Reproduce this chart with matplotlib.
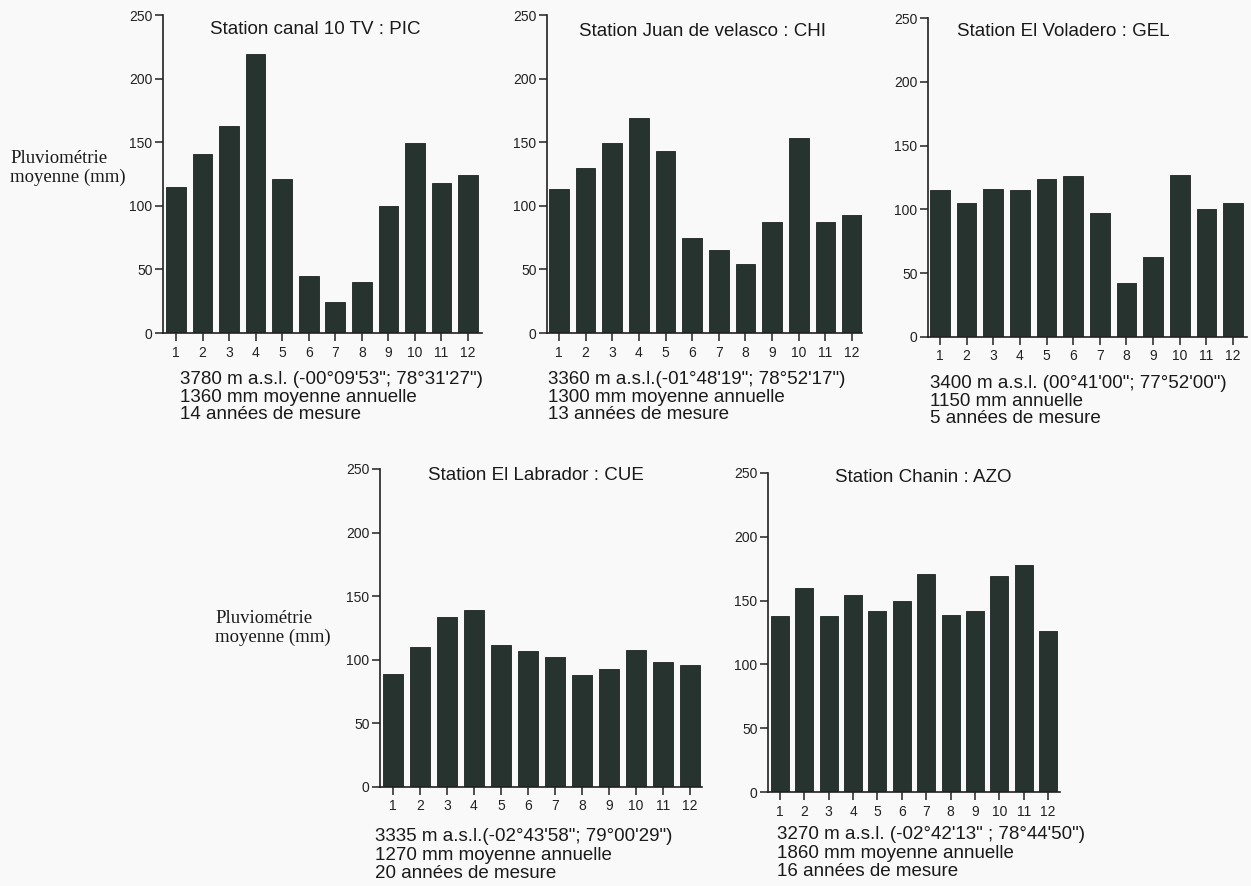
import numpy as np
import matplotlib
matplotlib.use("Agg")
import matplotlib.pyplot as plt

# Pluviométrie moyenne mensuelle (mm) par station
mois = np.arange(1, 13)
pic = [115, 141, 163, 219, 121, 45, 24, 40, 100, 149, 118, 124]
chi = [113, 130, 149, 169, 143, 75, 65, 54, 87, 153, 87, 93]
gel = [115, 105, 116, 115, 124, 126, 97, 42, 63, 127, 100, 105]
cue = [89, 110, 134, 139, 112, 107, 102, 88, 93, 108, 98, 96]
azo = [138, 160, 138, 154, 142, 150, 171, 139, 142, 169, 178, 126]

titres = ["Station canal 10 TV : PIC", "Station Juan de velasco : CHI",
          "Station El Voladero : GEL", "Station El Labrador : CUE",
          "Station Chanin : AZO"]
legendes = [
    "3780 m a.s.l. (-00°09'53\"; 78°31'27\")\n1360 mm moyenne annuelle\n14 années de mesure",
    "3360 m a.s.l.(-01°48'19\"; 78°52'17\")\n1300 mm moyenne annuelle\n13 années de mesure",
    "3400 m a.s.l. (00°41'00\"; 77°52'00\")\n1150 mm annuelle\n5 années de mesure",
    "3335 m a.s.l.(-02°43'58\"; 79°00'29\")\n1270 mm moyenne annuelle\n20 années de mesure",
    "3270 m a.s.l. (-02°42'13\" ; 78°44'50\")\n1860 mm moyenne annuelle\n16 années de mesure",
]
series = [pic, chi, gel, cue, azo]

W, H = 1251, 886
# position des panneaux en pixels: axe gauche, droite, haut(250), bas(0), centre mois 1, centre mois 12
panneaux = [
    (163, 482, 15, 333, 176, 468),
    (547, 862, 15, 333, 559, 852),
    (928, 1247, 18, 337, 940, 1233),
    (380, 702, 469, 787, 393, 690),
    (768, 1060, 473, 792, 780, 1048),
]
pos_titre = [(210, 30), (579, 31), (957, 31), (428, 476), (835, 478)]
pos_leg = [(180, 371), (548, 371), (930, 375), (375, 828), (777, 826)]

couleur = "#27332f"
plt.rcParams['font.family'] = ['Liberation Sans', 'DejaVu Sans']

fig = plt.figure(figsize=(W / 100, H / 100), dpi=100)
fig.patch.set_facecolor("#f9f9f9")

for i, (g, d, h, b, m1, m12) in enumerate(panneaux):
    ax = fig.add_axes([g / W, 1 - b / H, (d - g) / W, (b - h) / H])
    ax.set_facecolor("none")
    unite = (m12 - m1) / 11
    ax.bar(mois, series[i], width=0.74, color=couleur, edgecolor="#1a2422", linewidth=0.6)
    ax.set_xlim(1 - (m1 - g) / unite, 12 + (d - m12) / unite)
    ax.set_ylim(0, 250)
    ax.set_yticks([0, 50, 100, 150, 200, 250])
    ax.set_xticks(mois)
    for s in ["top", "right"]:
        ax.spines[s].set_visible(False)
    for s in ["left", "bottom"]:
        ax.spines[s].set_linewidth(1.2)
        ax.spines[s].set_color("#222222")
    ax.tick_params(axis="both", direction="out", length=6, width=1.1,
                   labelsize=10, colors="#222222")
    ax.tick_params(axis="y", pad=1.5)
    ax.tick_params(axis="x", pad=3)
    ax.spines["left"].set_bounds(0, 250)

    tx, ty = pos_titre[i]
    fig.text(tx / W, 1 - ty / H, titres[i], fontsize=13.5, va="center", ha="left",
             color="#1a1a1a")
    lx, ly = pos_leg[i]
    fig.text(lx / W, 1 - ly / H, legendes[i], fontsize=13.5, va="top", ha="left",
             linespacing=1.05 if i < 3 else 1.12, color="#1a1a1a")

# étiquettes de l'axe y
for (x, y) in [(10, 168), (215, 628)]:
    fig.text(x / W, 1 - y / H, "Pluviométrie\nmoyenne (mm)", fontsize=13.5,
             family=["Liberation Serif", "DejaVu Serif"], va="center", ha="left",
             linespacing=1.1, color="#1a1a1a")

fig.savefig("out.png", dpi=100, facecolor=fig.get_facecolor())
